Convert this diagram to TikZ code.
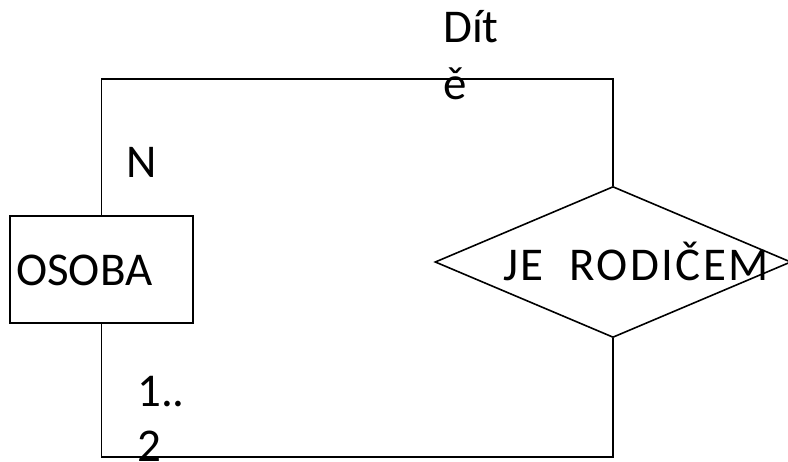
\documentclass[tikz,border=0pt]{standalone}
\usepackage{fontspec}
\setmainfont{Carlito}
\usetikzlibrary{shapes.geometric}
\begin{document}
\begin{tikzpicture}[x=1pt,y=-1pt,
  line/.style={line width=1.6pt,draw=black},
  lbl/.style={inner sep=0pt,anchor=base west,font=\fontsize{47}{56}\selectfont}]
\useasboundingbox (0,0) rectangle (788,462);
\node[line,rectangle,minimum width=183pt,minimum height=107pt,inner sep=0pt] (osoba) at (101.5,269.5) {};
\node[lbl] (osobat) at (16,286) {OSOBA};
\node[line,diamond,minimum width=356pt,minimum height=151pt,inner sep=0pt] (rel) at (613,262) {};
\node[lbl] (relt) at (503,281) {\addfontfeature{LetterSpace=5}JE\ \ RODIČEM};
\draw[line] (osoba.north) -- (osoba.north |- 0,79) -| (rel.north);
\draw[line] (osoba.south) -- (osoba.south |- 0,457) -| (rel.south);
\node[lbl] (dit) at (443,43) {Dít};
\node[lbl] (dite) at (443,100) {ě};
\node[lbl] (n) at (126,178) {N};
\node[lbl] (one) at (137,407) {1..};
\node[lbl] (two) at (137,462) {2};
\end{tikzpicture}
\end{document}
